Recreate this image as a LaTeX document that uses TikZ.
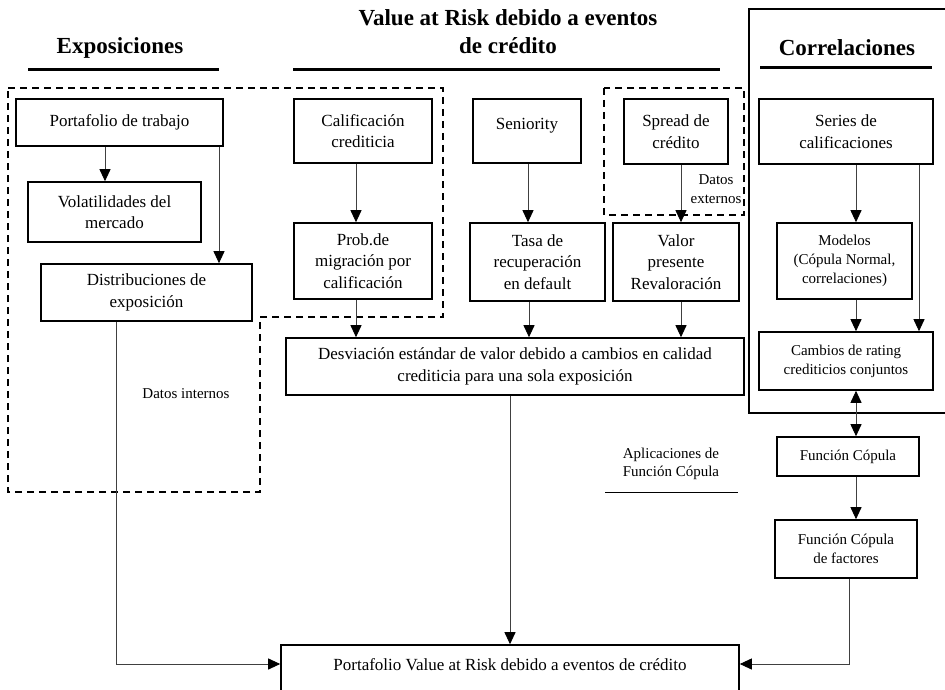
\documentclass[tikz,border=0pt]{standalone}
\usepackage{fontspec}
\setmainfont{Liberation Serif}
\usetikzlibrary{arrows.meta}
\begin{document}
\begin{tikzpicture}[x=1pt,y=-1pt,
  box/.style={draw=black, line width=1.6pt, align=center, inner sep=2pt, font=\fontsize{17}{21.5}\selectfont},
  sbox/.style={box, font=\fontsize{15}{19}\selectfont},
  arr/.style={draw=black!75, line width=0.9pt, -{Triangle[length=12pt,width=11pt,color=black]}},
  dbl/.style={draw=black!75, line width=0.9pt, {Triangle[length=12pt,width=11pt,color=black]}-{Triangle[length=12pt,width=11pt,color=black]}},
  head/.style={font=\fontsize{23}{28}\selectfont\bfseries, align=center, inner sep=0pt},
  lbl/.style={font=\fontsize{15}{18.5}\selectfont, align=center, inner sep=0pt},
  hline/.style={line width=3pt},
  dashbox/.style={line width=1.8pt, dash pattern=on 7pt off 5pt}]
\useasboundingbox (0,0) rectangle (945,690);

% headings
\node[head] (h1) at (120,48) {Exposiciones};
\node[head] (h2) at (508,32) {Value at Risk debido a eventos\\de crédito};
\node[head] (h3) at (847,48) {Correlaciones};
\draw[hline] (28,70) -- (219,70);
\draw[hline] (293,70) -- (720,70);
\draw[hline] (760,68) -- (932,68);

% group frames
\draw[dashbox] (8,88) -- (443,88) -- (443,317) -- (260,317) -- (260,492) -- (8,492) -- cycle;
\draw[dashbox] (604,88) rectangle (744,215);
\draw[line width=1.8pt] (960,9) -- (749,9) -- (749,413) -- (960,413);

% boxes
\node[box, minimum width=207pt, minimum height=47pt] (port) at (119.5,122.5) {Portafolio de trabajo};
\node[box, minimum width=173pt, minimum height=60pt] (vol) at (114.5,212) {Volatilidades del\\mercado};
\node[box, minimum width=211pt, minimum height=57pt] (dist) at (146.5,292.5) {Distribuciones de\\exposición};
\node[box, minimum width=138pt, minimum height=64pt] (calif) at (363,131) {Calificación\\crediticia};
\node[box, minimum width=138pt, minimum height=76pt] (prob) at (363,261) {Prob.de\\migración por\\calificación};
\node[box, minimum width=108pt, minimum height=64pt, text height=12pt, text depth=14pt] (sen) at (527,131) {Seniority};
\node[box, minimum width=104pt, minimum height=65pt] (spread) at (676,131.5) {Spread de\\crédito};
\node[box, minimum width=135pt, minimum height=78pt] (tasa) at (537.5,262) {Tasa de\\recuperación\\en default};
\node[box, minimum width=126pt, minimum height=78pt] (valor) at (676,262) {Valor\\presente\\Revaloración};
\node[box, minimum width=174pt, minimum height=65pt] (series) at (846,131.5) {Series de\\calificaciones};
\node[sbox, minimum width=135pt, minimum height=76pt] (model) at (844.5,261) {Modelos\\(Cópula Normal,\\correlaciones)};
\node[sbox, minimum width=174pt, minimum height=58pt] (cambios) at (846,361) {Cambios de rating\\crediticios conjuntos};
\node[box, minimum width=458pt, minimum height=57pt] (desv) at (515,366.5) {Desviación estándar de valor debido a cambios en calidad\\crediticia para una sola exposición};
\node[sbox, minimum width=142pt, minimum height=39pt] (fc) at (848,456.5) {Función Cópula};
\node[sbox, minimum width=142pt, minimum height=58pt] (fcf) at (846,549) {Función Cópula\\de factores};
\node[box, minimum width=458pt, minimum height=55pt, text height=12pt, text depth=17pt] (var) at (510,672.5) {Portafolio Value at Risk debido a eventos de crédito};

% labels
\node[lbl] (lint) at (186,394) {Datos internos};
\node[lbl] (lext) at (716,189) {Datos\\externos};
\node[lbl] (lapp) at (671,464) {Aplicaciones de\\Función Cópula};
\draw[line width=0.8pt] (605,492) -- (738,492);

% helper coordinates
\coordinate (x105) at (105,0);
\coordinate (x219) at (219,0);
\coordinate (x356) at (356,0);
\coordinate (x528) at (528,0);
\coordinate (x529) at (529,0);
\coordinate (x681) at (681,0);
\coordinate (x856) at (856,0);
\coordinate (x919) at (919,0);
\coordinate (x116) at (116,0);
\coordinate (x849) at (849,0);
\coordinate (y664) at (0,664);

% connectors
\draw[arr] (port.south -| x105) -- (vol.north -| x105);
\draw[arr] (port.south -| x219) -- (dist.north -| x219);
\draw[arr] (calif.south -| x356) -- (prob.north -| x356);
\draw[arr] (prob.south -| x356) -- (desv.north -| x356);
\draw[arr] (sen.south -| x528) -- (tasa.north -| x528);
\draw[arr] (tasa.south -| x529) -- (desv.north -| x529);
\draw[arr] (spread.south -| x681) -- (valor.north -| x681);
\draw[arr] (valor.south -| x681) -- (desv.north -| x681);
\draw[arr] (series.south -| x856) -- (model.north -| x856);
\draw[arr] (series.south -| x919) -- (cambios.north -| x919);
\draw[arr] (model.south -| x856) -- (cambios.north -| x856);
\draw[dbl] (cambios.south -| x856) -- (fc.north -| x856);
\draw[arr] (fc.south -| x856) -- (fcf.north -| x856);
\draw[arr] (desv.south -| var.north) -- (var.north);
\draw[arr] (dist.south -| x116) |- (var.west |- y664);
\draw[arr] (fcf.south -| x849) |- (var.east |- y664);
\end{tikzpicture}
\end{document}
